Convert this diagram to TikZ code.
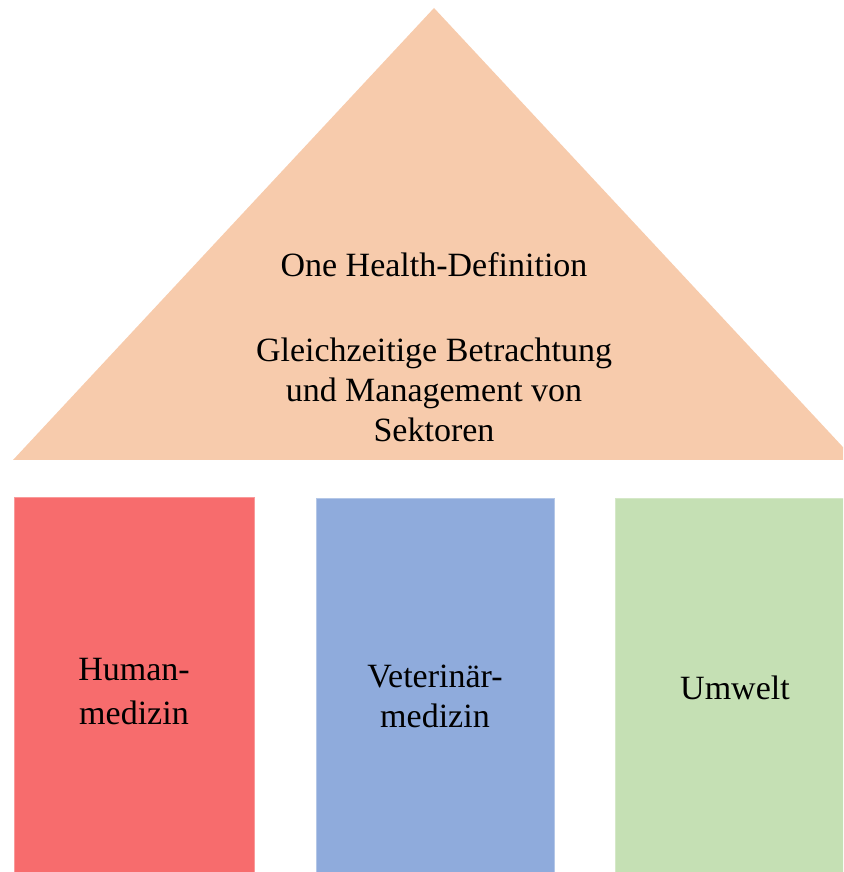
\documentclass[tikz,border=0pt]{standalone}
\usepackage{fontspec}
\setmainfont{Liberation Serif}
\definecolor{roof}{HTML}{F7CBAC}
\definecolor{humanc}{HTML}{F76C6D}
\definecolor{humanb}{HTML}{F99A9A}
\definecolor{vetc}{HTML}{8FABDC}
\definecolor{vetb}{HTML}{B4C7E7}
\definecolor{envc}{HTML}{C5E0B4}
\definecolor{envb}{HTML}{D5E8C8}
\begin{document}
\begin{tikzpicture}[x=1pt,y=1pt,
  lbl/.style={font=\fontsize{34}{40}\selectfont, align=center, text=black, inner sep=0pt},
  pillar/.style={line width=1pt}]
\useasboundingbox (0,0) rectangle (843,872);
\begin{scope}
\clip (0,0) rectangle (843,872);
\fill[roof] (434,864) -- (13,412) -- (855,412) -- cycle;
\filldraw[pillar, fill=humanc, draw=humanb] (14,-5) rectangle (254,374);
\filldraw[pillar, fill=vetc, draw=vetb] (316,-5) rectangle (554,373);
\filldraw[pillar, fill=envc, draw=envb] (615,-5) rectangle (860,373);
\end{scope}
\node[lbl] (title) at (434,607) {One Health-Definition};
\node[lbl] (def) at (434,482) {Gleichzeitige Betrachtung\\und Management von\\Sektoren};
\node[lbl] (human) at (134,180) {Human-\\[4pt]medizin};
\node[lbl] (vet) at (435,176) {Veterinär-\\medizin};
\node[lbl] (env) at (735,184) {Umwelt};
\end{tikzpicture}
\end{document}
